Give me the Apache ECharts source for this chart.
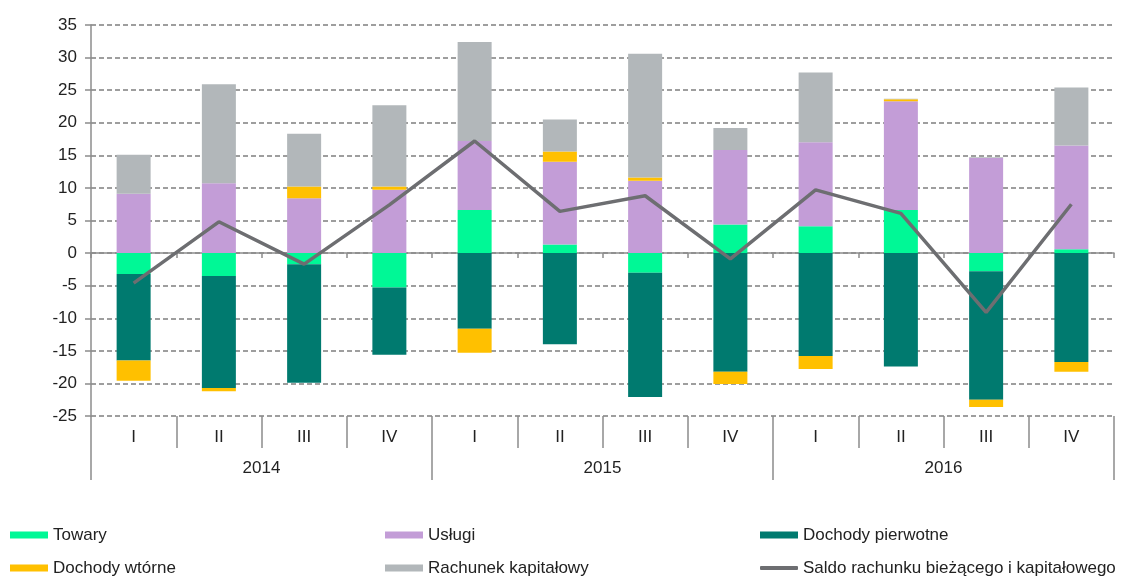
<!DOCTYPE html>
<html>
<head>
<meta charset="utf-8">
<script src="https://cdn.jsdelivr.net/npm/echarts@6/dist/echarts.min.js"></script>
<style>
  html, body { margin: 0; padding: 0; background: #fff; }
  #chart { width: 1125px; height: 578px; }
</style>
</head>
<body>
<div id="chart"></div>
<script>
// Quarterly components of the current and capital account balance (bn)
const quarters = ['I', 'II', 'III', 'IV', 'I', 'II', 'III', 'IV', 'I', 'II', 'III', 'IV'];
const years = ['2014', '2015', '2016'];
const yTicks = { min: -25, max: 35, step: 5 };

const towary            = [-3.2, -3.5, -1.7, -5.3,  6.6,  1.3, -3.0,  4.4,  4.1,  6.6, -2.8,  0.6];
const uslugi            = [ 9.1, 10.7,  8.4,  9.7, 10.6, 12.7, 11.1, 11.4, 12.9, 16.7, 14.6, 15.9];
const dochodyPierwotne  = [-13.3, -17.2, -18.2, -10.3, -11.6, -14.0, -19.1, -18.2, -15.8, -17.4, -19.7, -16.7];
const dochodyWtorne     = [-3.1, -0.5,  1.8,  0.5, -3.7,  1.6,  0.5, -1.9, -2.0,  0.3, -1.1, -1.5];
const rachunekKapitalowy = [ 6.0, 15.2,  8.1, 12.5, 15.2,  4.9, 19.0,  3.4, 10.7,  0.1,  0.1,  8.9];
const saldo             = [-4.6,  4.8, -1.7,  7.4, 17.2,  6.4,  8.8, -0.9,  9.7,  6.1, -9.1,  7.5];

const FONT = '"Liberation Sans", Arial, sans-serif';
const TEXT = '#222';
const AXIS = '#8c8c8c';
const SALDO = 'Saldo rachunku bieżącego i kapitałowego';

const chart = echarts.init(document.getElementById('chart'), null, { renderer: 'canvas' });

function barSeries(name, data, color) {
  return {
    name: name,
    type: 'bar',
    stack: 'total',
    xAxisIndex: 0,
    barWidth: 34,
    data: data,
    itemStyle: { color: color },
    emphasis: { disabled: true }
  };
}

// one legend entry placed in a 3-column, 2-row block
function legendItem(name, left, top) {
  const isLine = name === SALDO;
  return {
    left: left,
    top: top,
    itemWidth: 38,
    itemHeight: isLine ? 4 : 7,
    padding: 0,
    selectedMode: false,
    data: [{ name: name, icon: isLine ? 'roundRect' : 'rect' }],
    textStyle: { fontFamily: FONT, fontSize: 17, color: TEXT, lineHeight: 20 }
  };
}

const option = {
  animation: false,
  backgroundColor: '#fff',
  grid: { left: 91, right: 11, top: 25, bottom: 162, containLabel: false },
  legend: [
    legendItem('Towary', 10, 525),
    legendItem('Usługi', 385, 525),
    legendItem('Dochody pierwotne', 760, 525),
    legendItem('Dochody wtórne', 10, 558),
    legendItem('Rachunek kapitałowy', 385, 558),
    legendItem(SALDO, 760, 558)
  ],
  xAxis: [
    {
      // category axis crossing at zero
      type: 'category',
      data: quarters,
      position: 'bottom',
      axisLine: { onZero: true, lineStyle: { color: AXIS, width: 1.5 } },
      axisTick: { show: true, length: 5, inside: false, lineStyle: { color: AXIS, width: 1.5 } },
      axisLabel: { show: false },
      splitLine: { show: false }
    },
    {
      // quarter labels under the plot
      type: 'category',
      data: quarters,
      position: 'bottom',
      axisLine: { show: false, onZero: false },
      axisTick: { show: true, length: 32, interval: 0, lineStyle: { color: AXIS, width: 1.5 } },
      axisLabel: { interval: 0, margin: 13, fontFamily: FONT, fontSize: 17, color: TEXT },
      splitLine: { show: false }
    },
    {
      // year labels
      type: 'category',
      data: years,
      position: 'bottom',
      axisLine: { show: false, onZero: false },
      axisTick: { show: true, length: 64, interval: 0, lineStyle: { color: AXIS, width: 1.5 } },
      axisLabel: { interval: 0, margin: 44, fontFamily: FONT, fontSize: 17, color: TEXT },
      splitLine: { show: false }
    }
  ],
  yAxis: {
    type: 'value',
    min: yTicks.min,
    max: yTicks.max,
    interval: yTicks.step,
    axisLine: { show: true, lineStyle: { color: AXIS, width: 1.5 } },
    axisTick: { show: true, length: 6, lineStyle: { color: AXIS, width: 1.5 } },
    axisLabel: { margin: 14, fontFamily: FONT, fontSize: 17, color: TEXT },
    splitLine: { show: true, lineStyle: { color: '#7f7f7f', width: 1.5, type: [5, 3] } }
  },
  series: [
    barSeries('Towary', towary, '#00f896'),
    barSeries('Usługi', uslugi, '#c39dd7'),
    barSeries('Dochody pierwotne', dochodyPierwotne, '#007a6f'),
    barSeries('Dochody wtórne', dochodyWtorne, '#ffc000'),
    barSeries('Rachunek kapitałowy', rachunekKapitalowy, '#b2b7ba'),
    {
      name: SALDO,
      type: 'line',
      xAxisIndex: 0,
      data: saldo,
      symbol: 'none',
      z: 5,
      itemStyle: { color: '#6d6e71' },
      lineStyle: { color: '#6d6e71', width: 3.5 },
      emphasis: { disabled: true }
    }
  ]
};

chart.setOption(option);
</script>
</body>
</html>
